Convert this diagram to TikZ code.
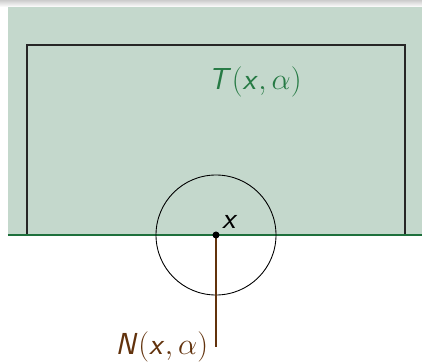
\documentclass[tikz,border=0pt]{standalone}
\usepackage{amsmath,amssymb}
\usepackage{tikz}
\DeclareMathAlphabet{\mathsfit}{OT1}{cmss}{m}{sl}
\definecolor{regionfill}{RGB}{196,216,204}
\definecolor{edgegreen}{RGB}{30,112,60}
\definecolor{labelgreen}{RGB}{38,122,68}
\definecolor{normalbrown}{RGB}{98,50,12}

\begin{document}
\begin{tikzpicture}[every node/.style={font=\fontsize{16}{18}\selectfont}]
	\useasboundingbox (-4.32,-2.52) rectangle (4.12,4.70);
	\fill[white] (-4.32,-2.52) rectangle (4.12,4.70);
	\shade[top color=gray!40, bottom color=white] (-4.32,4.56) rectangle (4.12,4.70);
	\fill[regionfill] (-4.16,0) rectangle (4.12,4.56);
	\draw[black!70!gray, line width=0.7pt] (-3.78,0) rectangle (3.78,3.80);
	\draw[edgegreen, line width=1.1pt] (-4.16,0) -- (4.12,0);
	\coordinate (x) at (0,0);
	\coordinate (nend) at (0,-2.24);
	\draw[line width=0.5pt] (x) circle (1.2);
	\draw[normalbrown, line width=1.1pt] (x) -- (nend) node[left, text=normalbrown, inner sep=4pt] {$\mathsfit{N}(\mathsfit{x},\alpha)$};
	\fill (x) circle (2pt) node[above right] {$\mathsfit{x}$};
	\node[text=labelgreen] (tlabel) at (0.78,3.06) {$\mathsfit{T}(\mathsfit{x},\alpha)$};
\end{tikzpicture}
\end{document}
